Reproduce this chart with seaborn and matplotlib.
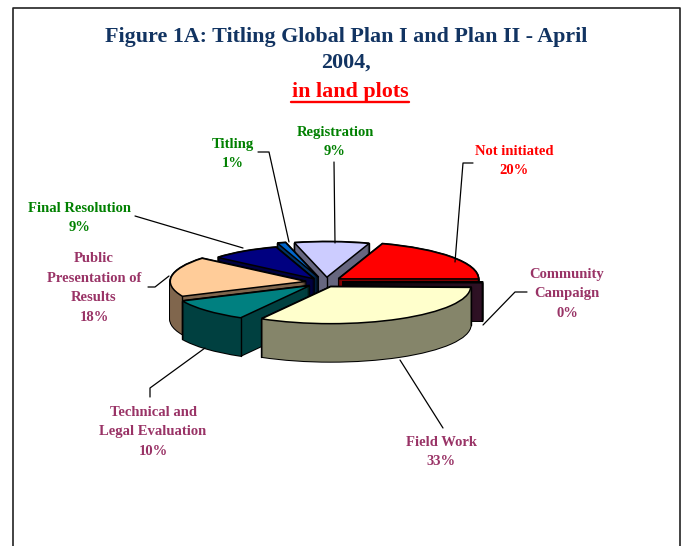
import numpy as np
import matplotlib
matplotlib.use("Agg")
import matplotlib.pyplot as plt
from matplotlib.lines import Line2D
from matplotlib.transforms import Affine2D
import seaborn as sns

# ---- data (clockwise from Registration) ----
categories = ["Registration", "Not initiated", "Community\nCampaign", "Field Work",
              "Technical and\nLegal Evaluation", "Public\nPresentation of\nResults",
              "Final Resolution", "Titling"]
shown_pct = ["9%", "20%", "0%", "33%", "10%", "18%", "9%", "1%"]
values = [9, 20, 0.3, 33, 10, 18, 9, 1]
top_colors = ["#CCCCFF", "#FF0000", "#5A1A40", "#FFFFCC", "#008080", "#FFCC99", "#000080", "#0066CC"]
side_colors = ["#66667F", "#800000", "#451A36", "#85856A", "#004040", "#80664D", "#000040", "#003366"]
label_colors = ["#008000", "#FF0000", "#993366", "#993366", "#993366", "#993366", "#008000", "#008000"]
label_xy = [(335, 142), (514, 161), (567, 294), (441, 452), (153, 432), (94, 288), (80, 218), (233, 154)]
leaders = [[(334, 162), (335, 243)],
           [(473, 163), (463, 163), (455, 262)],
           [(527, 292), (515, 292), (483, 325)],
           [(443, 428), (400, 360)],
           [(150, 397), (150, 388), (205, 348)],
           [(148, 287), (155, 287), (169, 276)],
           [(135, 216), (243, 248)],
           [(258, 152), (269, 152), (289, 242)]]
draw_order = [0, 7, 6, 1, 2, 5, 4, 3]
explode = [0.13, 0.145, 0.145, 0.145, 0.145, 0.115, 0.10, 0.13]
radius_scale = [0.96, 1.0, 1.0, 1.0, 1.0, 0.97, 0.90, 0.97]
x_nudge = [0.03, 0.0, 0.0, -0.01, 0.02, 0.0, 0.0, 0.01]

W, H = 682, 546
CX, CY, RX, RY, DEPTH = 322, 282, 140, 37, 38

sns.set_theme(style="white")
plt.rcParams["font.family"] = ["Liberation Serif", "DejaVu Serif"]
fig = plt.figure(figsize=(W / 100, H / 100), dpi=100, facecolor="white")
ax = fig.add_axes([0, 0, 1, 1])
px = Affine2D().scale(1, -1).translate(0, H)   # reference pixel coordinates

n_layers = DEPTH
dy = (DEPTH / RY) / n_layers
geom = None
for k in range(n_layers, -1, -1):
    center = (0, -k * dy)
    st, _ = ax.pie(values, explode=explode, colors=side_colors,
                   startangle=104, counterclock=False, radius=1, center=center,
                   wedgeprops=dict(edgecolor="black", linewidth=1.5))
    fl, _ = ax.pie(values, explode=explode,
                   colors=top_colors if k == 0 else side_colors,
                   startangle=104, counterclock=False, radius=1, center=center,
                   wedgeprops=dict(edgecolor="black" if k == 0 else "none",
                                   linewidth=1.1 if k == 0 else 0))
    for i, (s, f) in enumerate(zip(st, fl)):
        z = 10 + 10 * draw_order.index(i)
        for w in (s, f):
            w.set_radius(radius_scale[i])
            w.set_center((w.center[0] + x_nudge[i], w.center[1]))
        s.set_zorder(z)
        f.set_zorder(z + (5 if k == 0 else 1))
    if k == 0:
        geom = [(w.center, w.r, w.theta1, w.theta2) for w in fl]

# vertical edges of the visible faces
depth_units = DEPTH / RY
for i, (c, r, t1, t2) in enumerate(geom):
    z = 10 + 10 * draw_order.index(i) + 3
    cx, cy = c
    s1 = np.sin(np.radians(t1 - 90)) < 0   # wall at t1 faces the viewer
    s2 = np.sin(np.radians(t2 + 90)) < 0   # wall at t2 faces the viewer
    for t, vis in ((t1, s1), (t2, s2)):
        if vis or np.sin(np.radians(t)) < 0:
            x = cx + r * np.cos(np.radians(t))
            y = cy + r * np.sin(np.radians(t))
            ax.plot([x, x], [y, y - depth_units], color="black", lw=1.0, zorder=z)
    if s1 and s2:
        ax.plot([cx, cx], [cy, cy - depth_units], color="black", lw=1.0, zorder=z)

ax.set_aspect("auto")
ax.set_xlim(-CX / RX, (W - CX) / RX)
ax.set_ylim((CY - H) / RY, CY / RY)
ax.set_axis_off()

# labels
for name, pct, col, (x, y) in zip(categories, shown_pct, label_colors, label_xy):
    ax.text(x, y, name + "\n" + pct, transform=px,
            ha="center", va="center", ma="center", color=col, fontsize=10.5,
            fontweight="bold", linespacing=1.66, zorder=300, clip_on=False)
for pts in leaders:
    xs, ys = zip(*pts)
    ax.add_line(Line2D(xs, ys, color="black", lw=0.9, transform=px, zorder=200, clip_on=False))

# title
navy = "#123462"
ax.text(346, 37, "Figure 1A: Titling Global Plan I and Plan II - April", transform=px,
        ha="center", va="center", color=navy, fontsize=15.8, fontweight="bold", zorder=300)
ax.text(346, 63, "2004,", transform=px, ha="center", va="center", color=navy,
        fontsize=15.8, fontweight="bold", zorder=300)
ax.text(350, 92, "in land plots", transform=px, ha="center", va="center", color="#FF0000",
        fontsize=15.8, fontweight="bold", zorder=300)
ax.add_line(Line2D([291, 409], [102, 102], color="#FF0000", lw=1.7, transform=px, zorder=300))

# page frame, open at the bottom
ax.add_line(Line2D([13, 13, 680, 680], [546, 8, 8, 546], color="#222222", lw=1.2,
                   transform=px, zorder=300, clip_on=False))

fig.savefig("out.png", dpi=100)
